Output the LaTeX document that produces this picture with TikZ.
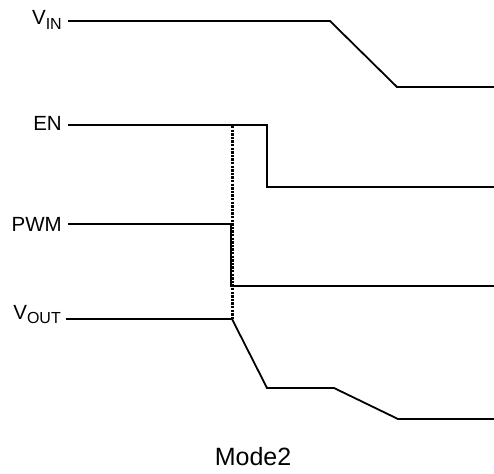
\documentclass[tikz,border=0pt]{standalone}
\usepackage{fontspec}
\setmainfont{Liberation Sans}
\newlength{\du}
\setlength{\du}{1pt}
\newcommand{\sigsub}[1]{\raisebox{-0.4ex}{\fontsize{16}{16}\selectfont #1}}

\begin{document}
\begin{tikzpicture}
\pgftransformxscale{1.000000}
\pgftransformyscale{-1.000000}
\tikzset{wave/.style={line width=1.8\du, line join=miter},
  marker/.style={line width=3\du, dash pattern=on 2.4\du off 1.2\du},
  sigtxt/.style={anchor=base east, inner sep=0pt, font=\fontsize{20.5}{20.5}\selectfont}}
\useasboundingbox[fill=white] (0\du,0\du) rectangle (494\du,473\du);
% signal names
\node[sigtxt] (vin) at (62\du,25\du){V\sigsub{IN}};
\node[sigtxt] (en) at (62\du,131\du){EN};
\node[sigtxt] (pwm) at (62\du,231\du){PWM};
\node[sigtxt] (vout) at (61\du,319\du){V\sigsub{OUT}};
\node[anchor=base, inner sep=0pt, font=\fontsize{25}{25}\selectfont] (mode) at (253\du,465\du){Mode2};
% waveforms
\coordinate (vin0) at (68\du,21\du);
\coordinate (en0) at (68\du,125\du);
\coordinate (pwm0) at (68\du,224\du);
\coordinate (vout0) at (66\du,319\du);
\draw[wave] (vin0)--(330\du,21\du)--(397\du,87\du)--(494\du,87\du);
\draw[wave] (en0)--(267\du,125\du)--(267\du,187\du)--(494\du,187\du);
\draw[wave] (pwm0)--(231\du,224\du)--(231\du,286\du)--(494\du,286\du);
\draw[wave] (vout0)--(232\du,319\du)--(267\du,388\du)--(334\du,388\du)--(398\du,419\du)--(494\du,419\du);
% timing marker
\draw[marker] (232\du,126\du)--(232\du,319\du);
\end{tikzpicture}
\end{document}
